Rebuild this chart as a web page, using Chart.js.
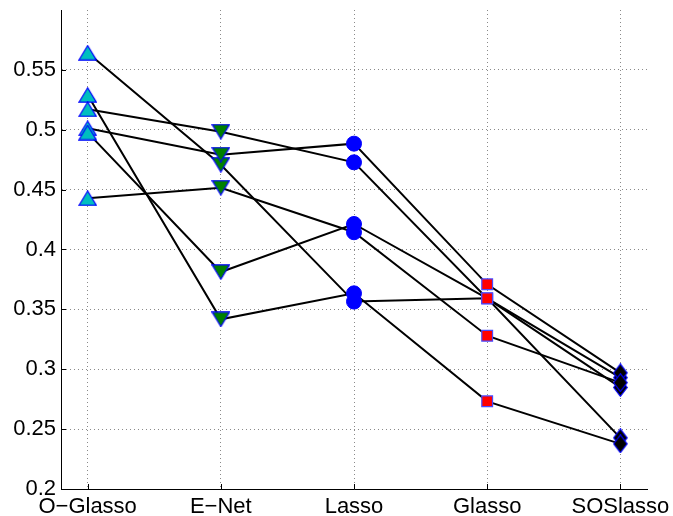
<!DOCTYPE html>
<html>
<head>
<meta charset="utf-8">
<script src="https://cdn.jsdelivr.net/npm/chart.js@4/dist/chart.umd.min.js"></script>
<style>
  html, body { margin: 0; padding: 0; background: #fff; }
  #wrap { width: 673px; height: 516px; }
</style>
</head>
<body>
<div id="wrap"><canvas id="c" width="673" height="516"></canvas></div>
<script>
// Methods along the x axis
const categories = ['O\u2212Glasso', 'E\u2212Net', 'Lasso', 'Glasso', 'SOSlasso'];

// One score per method for each run
const run1 = [0.5643, 0.4708, 0.3565, 0.3592, 0.2427];
const run2 = [0.5290, 0.3417, 0.3634, 0.2732, 0.2377];
const run3 = [0.5171, 0.4984, 0.4728, 0.3592, 0.2930];
const run4 = [0.5012, 0.4792, 0.4884, 0.3709, 0.2970];
const run5 = [0.4976, 0.3812, 0.4213, 0.3592, 0.2848];
const run6 = [0.4428, 0.4516, 0.4144, 0.3280, 0.2888];
const runs = [run1, run2, run3, run4, run5, run6];

// Y axis ticks
const yTicks = [0.2, 0.25, 0.3, 0.35, 0.4, 0.45, 0.5, 0.55];

// Marker sprites (triangles and diamond) drawn once on small canvases
function sprite(w, h, pts, fill, edge) {
  const c = document.createElement('canvas');
  c.width = w; c.height = h;
  const g = c.getContext('2d');
  g.beginPath();
  pts.forEach((p, i) => i ? g.lineTo(p[0], p[1]) : g.moveTo(p[0], p[1]));
  g.closePath();
  g.fillStyle = fill; g.fill();
  g.strokeStyle = edge; g.lineWidth = 1.2; g.stroke();
  return c;
}
const triUp = sprite(19, 16, [[0.8, 15.2], [9.5, 0.8], [18.2, 15.2]], '#00BFBF', '#0000FF');
const triDown = sprite(19, 16, [[0.8, 0.8], [18.2, 0.8], [9.5, 15.2]], '#008000', '#0000FF');
const diamond = sprite(15, 19, [[7.5, 0.7], [14.3, 9.5], [7.5, 18.3], [0.7, 9.5]], '#000000', '#0000FF');

const markerStyles = [
  { pointStyle: triUp },
  { pointStyle: triDown },
  { pointStyle: 'circle', pointRadius: 7.5, pointBackgroundColor: '#0000FF', pointBorderColor: '#0000FF', pointBorderWidth: 1 },
  { pointStyle: 'rect', pointRadius: 7.6, pointBackgroundColor: '#FF0000', pointBorderColor: '#4a4aff', pointBorderWidth: 1.2 },
  { pointStyle: diamond }
];

const lineSets = runs.map(r => ({
  data: r.map((v, i) => ({ x: i, y: v })),
  showLine: true,
  borderColor: '#000',
  borderWidth: 2,
  pointRadius: 0,
  order: 2
}));

const markerSets = categories.map((_, j) => Object.assign({
  data: runs.map(r => ({ x: j, y: r[j] })),
  showLine: false,
  pointRadius: 9,
  order: 1
}, markerStyles[j]));

// Short tick marks pointing into the plot area
const inwardTicks = {
  id: 'inwardTicks',
  beforeDatasetsDraw(chart) {
    const { ctx, chartArea: a, scales: { x, y } } = chart;
    ctx.save();
    ctx.strokeStyle = '#000';
    ctx.lineWidth = 1;
    ctx.beginPath();
    y.ticks.forEach(t => {
      const py = Math.round(y.getPixelForValue(t.value)) + 0.5;
      ctx.moveTo(a.left, py); ctx.lineTo(a.left + 5, py);
    });
    x.ticks.forEach(t => {
      const px = Math.round(x.getPixelForValue(t.value)) + 0.5;
      ctx.moveTo(px, a.bottom); ctx.lineTo(px, a.bottom - 5);
    });
    ctx.stroke();
    ctx.restore();
  }
};

const font = { family: '"Liberation Sans", Arial, Helvetica, sans-serif', size: 22 };

new Chart(document.getElementById('c'), {
  type: 'scatter',
  data: { datasets: [...lineSets, ...markerSets] },
  plugins: [inwardTicks],
  options: {
    responsive: false,
    animation: false,
    devicePixelRatio: 1,
    layout: { padding: { top: 10, right: 26, left: 0, bottom: 0 } },
    plugins: { legend: { display: false }, tooltip: { enabled: false } },
    scales: {
      x: {
        type: 'linear',
        min: -0.2,
        max: 4.2,
        afterBuildTicks: s => { s.ticks = categories.map((_, i) => ({ value: i })); },
        afterFit: s => { s.height = 27; s.paddingLeft = 0; s.paddingRight = 0; },
        ticks: {
          callback: v => categories[v],
          font: font,
          color: '#000',
          padding: 5,
          maxRotation: 0,
          autoSkip: false
        },
        grid: { color: '#8a8a8a', lineWidth: 1, drawTicks: false },
        border: { display: true, color: '#000', width: 1, dash: [1, 3] }
      },
      y: {
        type: 'linear',
        min: 0.2,
        max: 0.6,
        afterBuildTicks: s => { s.ticks = yTicks.map(v => ({ value: v })); },
        afterFit: s => { s.width = 61; s.paddingTop = 0; s.paddingBottom = 0; },
        ticks: {
          callback: v => String(v),
          font: font,
          color: '#000',
          padding: 5
        },
        grid: { color: '#8a8a8a', lineWidth: 1, drawTicks: false },
        border: { display: true, color: '#000', width: 1, dash: [1, 3] }
      }
    }
  }
});
</script>
</body>
</html>
